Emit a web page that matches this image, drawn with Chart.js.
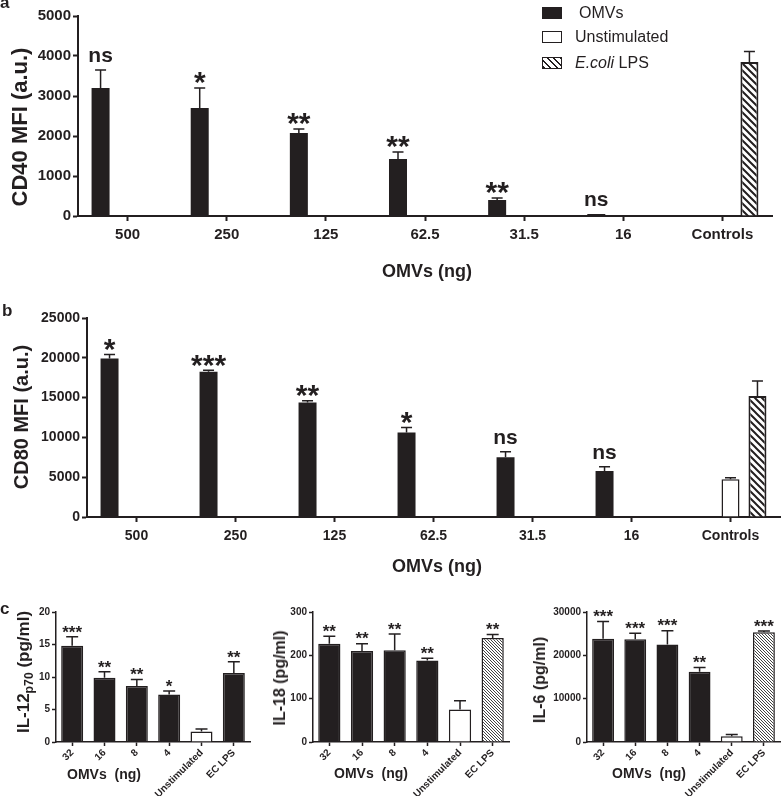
<!DOCTYPE html>
<html><head><meta charset="utf-8">
<script src="https://cdn.jsdelivr.net/npm/chart.js@4.4.1/dist/chart.umd.min.js"></script>
<style>
html,body{margin:0;padding:0;background:#fff;}
body{width:782px;height:796px;position:relative;overflow:hidden;font-family:"Liberation Sans",Arial,sans-serif;color:#231f20;}
canvas{position:absolute;}
.t{position:absolute;white-space:pre;line-height:1;font-weight:bold;transform:translate(-50%,-50%);}
.r{transform:translate(-50%,-50%) rotate(-90deg);}
.lt{position:absolute;font-weight:bold;font-size:17px;line-height:1;}
.lg{position:absolute;font-size:16px;line-height:1;white-space:pre;transform:translateY(-50%);}
.sw{position:absolute;width:20px;height:12px;box-sizing:border-box;transform:translateY(-50%);}
</style></head><body>
<canvas id="ca" width="782" height="280" style="left:0;top:0"></canvas>
<canvas id="cb" width="782" height="310" style="left:0;top:280px"></canvas>
<canvas id="c1" width="258" height="206" style="left:0;top:590px"></canvas>
<canvas id="c2" width="262" height="206" style="left:258px;top:590px"></canvas>
<canvas id="c3" width="262" height="206" style="left:520px;top:590px"></canvas>

<div class="lt" style="left:0;top:-6px">a</div>
<div class="lt" style="left:2px;top:302px">b</div>
<div class="lt" style="left:0;top:600px">c</div>

<div class="t r" style="left:20px;top:127px;font-size:22px">CD40 MFI (a.u.)</div>
<div class="t" style="left:427px;top:271px;font-size:18px">OMVs (ng)</div>
<div class="t r" style="left:21px;top:417px;font-size:20px">CD80 MFI (a.u.)</div>
<div class="t" style="left:437px;top:566px;font-size:18px">OMVs (ng)</div>

<div class="t r" style="left:23px;top:672px;font-size:17px">IL-12<span style="font-size:0.72em;position:relative;top:0.3em">p70</span> (pg/ml)</div>
<div class="t r" style="left:280px;top:678px;font-size:16px">IL-18 (pg/ml)</div>
<div class="t r" style="left:540px;top:680px;font-size:16px">IL-6 (pg/ml)</div>
<div class="t" style="left:104px;top:774px;font-size:14px">OMVs  (ng)</div>
<div class="t" style="left:371px;top:773px;font-size:14px">OMVs  (ng)</div>
<div class="t" style="left:649px;top:773px;font-size:14px">OMVs  (ng)</div>

<div class="sw" style="left:542px;top:13px;background:#231f20"></div>
<div class="lg" style="left:579px;top:13px">OMVs</div>
<div class="sw" style="left:542px;top:37px;background:#fff;border:1.5px solid #231f20"></div>
<div class="lg" style="left:575px;top:37px">Unstimulated</div>
<div class="sw" style="left:542px;top:63px;border:1.5px solid #231f20;background:repeating-linear-gradient(45deg,#231f20 0 1.6px,#fff 1.6px 4.6px)"></div>
<div class="lg" style="left:575px;top:63px"><i>E.coli</i> LPS</div>

<script>
// ---------- data ----------
const doseLabels = ['500','250','125','62.5','31.5','16','Controls'];

const cd40Omv    = [3200, 2700, 2075, 1425, 400, 50, null];
const cd40OmvErr = [450, 500, 100, 175, 50, 0, null];
const cd40OmvSig = ['ns','*','**','**','**','ns', null];
const cd40Unstim = [null, null, null, null, null, null, null];
const cd40UnstimErr = [null, null, null, null, null, null, null];
const cd40Lps    = [null, null, null, null, null, null, 3850];
const cd40LpsErr = [null, null, null, null, null, null, 260];

const cd80Omv    = [19900, 18250, 14400, 10600, 7500, 5780, null];
const cd80OmvErr = [500, 200, 200, 650, 700, 540, null];
const cd80OmvSig = ['*','***','**','*','ns','ns', null];
const cd80Unstim = [null, null, null, null, null, null, 4730];
const cd80UnstimErr = [null, null, null, null, null, null, 200];
const cd80Lps    = [null, null, null, null, null, null, 15200];
const cd80LpsErr = [null, null, null, null, null, null, 1900];

const cytoLabels = ['32','16','8','4','Unstimulated','EC LPS'];
const il12    = [14.8, 9.9, 8.6, 7.3, 1.6, 10.6];
const il12Err = [1.4, 0.9, 1.0, 0.55, 0.4, 1.75];
const il12Sig = ['***','**','**','*','','**'];
const il18    = [227, 210, 212, 188, 75, 240];
const il18Err = [17, 17, 37, 5, 20, 8];
const il18Sig = ['**','**','**','**','','**'];
const il6     = [23800, 23700, 22500, 16200, 1350, 25300];
const il6Err  = [4000, 1400, 3200, 1000, 400, 300];
const il6Sig  = ['***','***','***','**','','***'];

// ---------- styling ----------
const F = '"Liberation Sans", Arial, sans-serif';
const C = '#231f20';

function hatch(size, lw, color) {
  const c = document.createElement('canvas'); c.width = c.height = size;
  const g = c.getContext('2d');
  g.fillStyle = '#fff'; g.fillRect(0, 0, size, size);
  g.strokeStyle = color; g.lineWidth = lw; g.beginPath();
  for (let k = -1; k <= 1; k++) { g.moveTo(-1, -1 + k * size); g.lineTo(size + 1, size + 1 + k * size); }
  g.stroke();
  return g.createPattern(c, 'repeat');
}
const bigHatch = hatch(7, 2, C);
const fineHatch = hatch(3, 1, '#444');

const annot = {
  id: 'annot',
  afterDatasetsDraw(chart, args, o) {
    const ctx = chart.ctx, ys = chart.scales.y;
    chart.data.datasets.forEach((ds, di) => {
      const meta = chart.getDatasetMeta(di);
      meta.data.forEach((el, i) => {
        const v = ds.data[i]; if (v == null) return;
        const e = ds.err ? ds.err[i] : null;
        let top = el.y;
        if (e) {
          top = ys.getPixelForValue(v + e);
          ctx.save(); ctx.strokeStyle = C; ctx.lineWidth = o.lw;
          ctx.beginPath(); ctx.moveTo(el.x, el.y); ctx.lineTo(el.x, top);
          ctx.moveTo(el.x - o.cap / 2, top); ctx.lineTo(el.x + o.cap / 2, top);
          ctx.stroke(); ctx.restore();
        }
        const s = ds.sig ? ds.sig[i] : null;
        if (s) {
          const star = s.indexOf('*') >= 0;
          const size = star ? o.starSize : o.textSize;
          const cy = top - o.gap;
          ctx.save(); ctx.fillStyle = C; ctx.font = 'bold ' + size + 'px ' + F;
          ctx.textAlign = 'center'; ctx.textBaseline = 'alphabetic';
          ctx.fillText(s, el.x, cy + size * (star ? 0.58 : 0.26));
          ctx.restore();
        }
      });
    });
  }
};

function axes(o) {
  return {
    x: {
      ticks: { font: { size: o.xf, weight: 'bold', family: F }, color: C, padding: o.xpad,
               autoSkip: false, minRotation: o.rot, maxRotation: o.rot },
      grid: { display: true, offset: false, drawOnChartArea: false, tickLength: o.tl, tickWidth: o.lw, tickColor: C },
      border: { display: true, color: C, width: o.lw },
      afterFit(s) { s.height = o.xh; }
    },
    y: {
      min: 0, max: o.max,
      ticks: { stepSize: o.step, font: { size: o.yf, weight: 'bold', family: F }, color: C, padding: o.ypad,
               callback: v => String(v) },
      grid: { display: true, drawOnChartArea: false, tickLength: o.tl, tickWidth: o.lw, tickColor: C },
      border: { display: true, color: C, width: o.lw },
      afterFit(s) { s.width = o.yw; }
    }
  };
}

function base(pad, sc, an) {
  return {
    responsive: false, animation: false, devicePixelRatio: 1, events: [],
    layout: { padding: pad },
    plugins: { legend: { display: false }, tooltip: { enabled: false }, annot: an },
    scales: sc
  };
}

function groupChart(id, labels, omv, omvErr, omvSig, un, unErr, lps, lpsErr, o) {
  new Chart(document.getElementById(id), {
    type: 'bar',
    data: {
      labels: labels,
      datasets: [
        { label: 'OMVs', data: omv, err: omvErr, sig: omvSig, backgroundColor: C, borderWidth: 0,
          categoryPercentage: 0.817, barPercentage: 0.667 },
        { label: 'Unstimulated', data: un, err: unErr, backgroundColor: '#fff', borderColor: C, borderWidth: 1.5,
          categoryPercentage: 0.817, barPercentage: 0.667 },
        { label: 'E.coli LPS', data: lps, err: lpsErr, backgroundColor: bigHatch, borderColor: C, borderWidth: 2,
          categoryPercentage: 0.817, barPercentage: 0.667 }
      ]
    },
    options: base(o.pad, axes(o), { lw: 1.5, cap: 11, gap: 13, starSize: 30, textSize: 21 }),
    plugins: [annot]
  });
}

groupChart('ca', doseLabels, cd40Omv, cd40OmvErr, cd40OmvSig, cd40Unstim, cd40UnstimErr, cd40Lps, cd40LpsErr,
  { pad: { top: 16, right: 10, left: 0, bottom: 0 }, max: 5000, step: 1000, xf: 15, yf: 15, xpad: 5, ypad: 2,
    rot: 0, tl: 5, lw: 2, xh: 64, yw: 78 });
groupChart('cb', doseLabels, cd80Omv, cd80OmvErr, cd80OmvSig, cd80Unstim, cd80UnstimErr, cd80Lps, cd80LpsErr,
  { pad: { top: 38, right: 2, left: 0, bottom: 0 }, max: 25000, step: 5000, xf: 14, yf: 14, xpad: 6, ypad: 2,
    rot: 0, tl: 5, lw: 2, xh: 73, yw: 87 });

function cytoChart(id, vals, errs, sigs, colors, o) {
  new Chart(document.getElementById(id), {
    type: 'bar',
    data: {
      labels: cytoLabels,
      datasets: [{ data: vals, err: errs, sig: sigs, backgroundColor: colors, borderColor: C, borderWidth: 1.5,
                   categoryPercentage: 1, barPercentage: 0.68 }]
    },
    options: base(o.pad, axes(o), { lw: 1.5, cap: 12, gap: 9, starSize: 17, textSize: 14 }),
    plugins: [annot]
  });
}
const cyto = { max: 0, step: 0, xf: 10, yf: 10, xpad: 1, ypad: 2, rot: 45, tl: 4, lw: 1.5, xh: 54 };
cytoChart('c1', il12, il12Err, il12Sig, [C, C, C, C, '#fff', C],
  Object.assign({}, cyto, { pad: { top: 22, right: 8, left: 0, bottom: 0 }, max: 20, step: 5, yw: 56 }));
cytoChart('c2', il18, il18Err, il18Sig, [C, C, C, C, '#fff', fineHatch],
  Object.assign({}, cyto, { pad: { top: 22, right: 11, left: 0, bottom: 0 }, max: 300, step: 100, yw: 55 }));
cytoChart('c3', il6, il6Err, il6Sig, [C, C, C, C, '#fff', fineHatch],
  Object.assign({}, cyto, { pad: { top: 22, right: 2, left: 0, bottom: 0 }, max: 30000, step: 10000, yw: 67 }));
</script>
</body></html>
